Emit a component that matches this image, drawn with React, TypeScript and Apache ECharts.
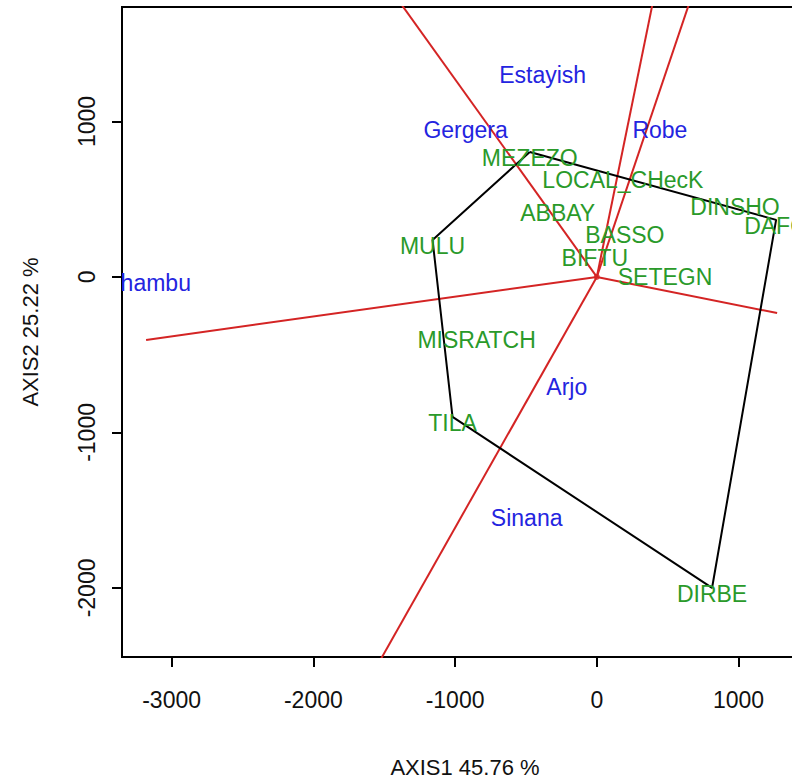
import React, { useEffect, useRef } from "react";
import * as echarts from "echarts";

// Genotypes (green labels)
const genotypeNames = ["MEZEZO", "LOCAL_CHecK", "DINSHO", "DAFO", "ABBAY", "BASSO", "BIFTU", "SETEGN", "MULU", "MISRATCH", "TILA", "DIRBE"];
const genotypeX = [-473, 184, 975, 1265, -276, 198, -14, 481, -1159, -848, -1018, 813];
const genotypeY = [804, 662, 489, 367, 450, 309, 161, 39, 238, -367, -900, -2000];

// Environments (blue labels)
const envNames = ["Estayish", "Gergera", "Robe", "Shambu", "Arjo", "Sinana"];
const envX = [-382, -926, 445, -3166, -212, -495];
const envY = [1338, 984, 984, 0, -669, -1511];

// Convex hull (polygon) order
const hullOrder = ["MEZEZO", "DAFO", "DIRBE", "TILA", "MULU", "MEZEZO"];

// Rays from origin (end points)
const rayEndX = [-1416, 403, 667, -3180, 1272, -1540];
const rayEndY = [1800, 1800, 1800, -405, -232, -2484];

// Ticks and titles
const xTicks = [-3000, -2000, -1000, 0, 1000];
const yTicks = [-2000, -1000, 0, 1000];
const xTitle = "AXIS1 45.76 %";
const yTitle = "AXIS2 25.22 %";

const X_MIN = -3350;
const X_MAX = 1490;
const Y_MIN = -2444;
const Y_MAX = 1736;

const GREEN = "#2a9a2a";
const BLUE = "#2424e0";
const RED = "#d42424";
const FONT = '"Liberation Sans", Arial, sans-serif';

export default function App() {
  const ref = useRef<HTMLDivElement>(null);

  useEffect(() => {
    if (!ref.current) return;
    const chart = echarts.init(ref.current, null, { renderer: "svg" });

    const labelSeries = (names: string[], xs: number[], ys: number[], color: string) => ({
      type: "custom",
      coordinateSystem: "cartesian2d",
      clip: true,
      z: 5,
      data: xs.map((x, i) => [x, ys[i]]),
      encode: { x: 0, y: 1 },
      renderItem: (params: any, api: any) => {
        const p = api.coord([api.value(0), api.value(1)]);
        return {
          type: "text",
          x: p[0],
          y: p[1] + 6,
          style: {
            text: names[params.dataIndex],
            fill: color,
            font: `23px ${FONT}`,
            align: "center",
            verticalAlign: "middle",
          },
        };
      },
    });

    const raySeries = rayEndX.map((ex, i) => ({
      type: "line",
      data: [
        [0, 0],
        [ex, rayEndY[i]],
      ],
      symbol: "none",
      clip: true,
      z: 3,
      lineStyle: { color: RED, width: 2 },
    }));

    const hullData = hullOrder.map((n) => {
      const i = genotypeNames.indexOf(n);
      return [genotypeX[i], genotypeY[i]];
    });

    const option: any = {
      animation: false,
      backgroundColor: "#ffffff",
      grid: {
        left: 122,
        top: 7,
        right: -16,
        bottom: 123,
        outerBoundsMode: "none",
        containLabel: false,
        show: true,
        borderColor: "#000",
        borderWidth: 2,
        backgroundColor: "transparent",
      },
      xAxis: {
        type: "value",
        min: X_MIN,
        max: X_MAX,
        splitLine: { show: false },
        axisLine: { show: true, onZero: false, lineStyle: { color: "#000", width: 2 } },
        axisTick: { show: true, customValues: xTicks, length: 10, lineStyle: { color: "#000", width: 2 } },
        axisLabel: {
          customValues: xTicks,
          formatter: (v: number) => String(v),
          fontSize: 23,
          fontFamily: FONT,
          color: "#111",
          margin: 31,
        },
        name: xTitle,
        nameLocation: "middle",
        nameGap: 99,
        nameTextStyle: { fontSize: 22, fontFamily: FONT, color: "#111" },
      },
      yAxis: {
        type: "value",
        min: Y_MIN,
        max: Y_MAX,
        splitLine: { show: false },
        axisLine: { show: true, onZero: false, lineStyle: { color: "#000", width: 2 } },
        axisTick: { show: true, customValues: yTicks, length: 10, lineStyle: { color: "#000", width: 2 } },
        axisLabel: {
          customValues: yTicks,
          formatter: (v: number) => String(v),
          fontSize: 23,
          fontFamily: FONT,
          color: "#111",
          rotate: 90,
          margin: 24,
        },
        name: yTitle,
        nameLocation: "middle",
        nameRotate: 90,
        nameGap: 81,
        nameTextStyle: { fontSize: 22, fontFamily: FONT, color: "#111" },
      },
      series: [
        ...raySeries,
        {
          type: "line",
          data: hullData,
          symbol: "none",
          clip: true,
          z: 4,
          lineStyle: { color: "#000", width: 2 },
        },
        {
          type: "scatter",
          data: [[0, 0]],
          symbol: "circle",
          symbolSize: 6,
          itemStyle: { color: RED },
          z: 4,
        },
        labelSeries(genotypeNames, genotypeX, genotypeY, GREEN),
        labelSeries(envNames, envX, envY, BLUE),
      ],
    };

    chart.setOption(option);
    return () => chart.dispose();
  }, []);

  return (
    <div
      ref={ref}
      style={{ position: "fixed", left: 0, top: 0, width: 792, height: 780, background: "#fff" }}
    />
  );
}
